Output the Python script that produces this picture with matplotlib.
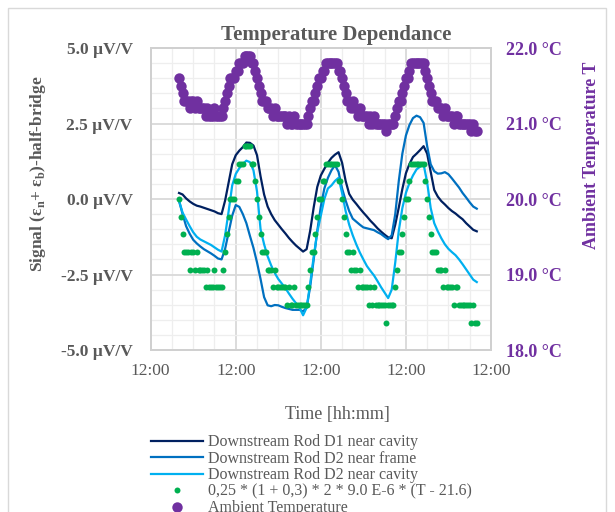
import matplotlib
matplotlib.use("Agg")
import matplotlib.pyplot as plt
from matplotlib.patches import Rectangle
from matplotlib.ticker import MultipleLocator, FuncFormatter
import numpy as np

plt.rcParams["font.family"] = ["Liberation Serif", "DejaVu Serif"]
plt.rcParams["mathtext.fontset"] = "custom"
plt.rcParams["mathtext.rm"] = "Liberation Serif:bold"

GRAY = "#595959"
PURPLE = "#7030A0"

# temperature, one reading every half hour (hours after the first 12:00)
temp_hours = np.arange(8.0, 92.01, 0.5)
temp = [
    21.6, 21.5, 21.4, 21.3, 21.3, 21.3, 21.2, 21.3, 21.3, 21.2, 21.3, 21.2,
    21.2, 21.2, 21.2, 21.1, 21.2, 21.1, 21.1, 21.1, 21.2, 21.1, 21.1, 21.1,
    21.1, 21.2, 21.3, 21.4, 21.5, 21.6, 21.6, 21.6, 21.7, 21.7, 21.8, 21.8,
    21.8, 21.9, 21.9, 21.9, 21.9, 21.8, 21.8, 21.7, 21.6, 21.5, 21.4, 21.3,
    21.3, 21.3, 21.2, 21.2, 21.2, 21.1, 21.2, 21.1, 21.1, 21.1, 21.1, 21.1,
    21.1, 21.0, 21.1, 21.0, 21.0, 21.1, 21.0, 21.0, 21.0, 21.0, 21.0, 21.0,
    21.0, 21.1, 21.2, 21.3, 21.3, 21.4, 21.5, 21.6, 21.6, 21.7, 21.7, 21.8,
    21.8, 21.8, 21.8, 21.8, 21.8, 21.8, 21.7, 21.7, 21.6, 21.5, 21.4, 21.3,
    21.3, 21.2, 21.3, 21.2, 21.2, 21.1, 21.2, 21.1, 21.1, 21.1, 21.1, 21.0,
    21.1, 21.0, 21.1, 21.0, 21.0, 21.0, 21.0, 21.0, 21.0, 20.9, 21.0, 21.0,
    21.0, 21.0, 21.1, 21.2, 21.3, 21.3, 21.4, 21.5, 21.6, 21.6, 21.7, 21.8,
    21.8, 21.8, 21.8, 21.8, 21.8, 21.8, 21.8, 21.7, 21.6, 21.5, 21.4, 21.3,
    21.3, 21.3, 21.2, 21.2, 21.2, 21.1, 21.2, 21.1, 21.1, 21.1, 21.1, 21.0,
    21.1, 21.1, 21.0, 21.0, 21.0, 21.0, 21.0, 21.0, 21.0, 20.9, 21.0, 20.9,
    20.9,
]

# strain gauge signals, one reading per hour [uV/V]
sig_hours = np.arange(8, 93, 1)
d1_cavity = [
    0.2, 0.15, 0.02, -0.08, -0.16, -0.22, -0.25, -0.29, -0.33, -0.37, -0.41, -0.47,
    -0.5, -0.05, 0.55, 1.15, 1.45, 1.6, 1.72, 1.87, 1.86, 1.77, 1.45, 0.75,
    0.15, -0.25, -0.5, -0.7, -0.85, -1.0, -1.14, -1.29, -1.42, -1.54, -1.64, -1.74,
    -1.66, -1.05, -0.27, 0.4, 0.78, 1.0, 1.2, 1.36, 1.47, 1.55, 1.2, 0.6,
    0.17, -0.02, -0.16, -0.31, -0.45, -0.58, -0.72, -0.84, -0.97, -1.08, -1.18, -1.27,
    -1.3, -0.85, -0.28, 0.33, 0.85, 1.16, 1.39, 1.5, 1.62, 1.75, 1.5, 0.9,
    0.3, 0.08, -0.07, -0.18, -0.3, -0.4, -0.48, -0.58, -0.67, -0.8, -0.91, -1.02,
    -1.07,
]
d2_frame = [
    -0.06, -0.5, -0.9, -1.15, -1.35, -1.47, -1.57, -1.66, -1.73, -1.8, -1.88, -1.97,
    -2.0, -1.65, -1.1, -0.55, -0.2, -0.26, -0.5, -0.8, -1.22, -1.62, -2.1, -2.65,
    -3.25, -3.52, -3.55, -3.51, -3.52, -3.57, -3.61, -3.64, -3.67, -3.67, -3.67, -3.72,
    -3.6, -2.9, -2.0, -1.05, -0.25, 0.35, 0.7, 0.95, 1.12, 0.9, 0.35, -0.05,
    -0.4, -0.65, -0.75, -0.85, -0.94, -0.97, -1.0, -1.03, -1.1, -1.16, -1.25, -1.33,
    -1.2, -0.5, 0.6, 1.5, 2.1, 2.45, 2.68, 2.76, 2.71, 2.52, 1.75, 1.15,
    0.92, 0.84, 0.85, 0.89, 0.82, 0.68, 0.53, 0.38, 0.2, 0.05, -0.11, -0.25,
    -0.32,
]
d2_cavity = [
    -0.06, -0.45, -0.68, -0.9, -1.1, -1.25, -1.34, -1.4, -1.46, -1.52, -1.6, -1.68,
    -1.74, -1.2, -0.4, 0.45, 0.83, 1.02, 1.16, 1.27, 1.22, 0.95, 0.25, -1.0,
    -1.5, -1.9, -2.2, -2.45, -2.65, -2.8, -2.95, -3.13, -3.3, -3.45, -3.6, -3.85,
    -3.6, -2.8, -1.9, -1.1, -0.55, 0.0, 0.35, 0.45, 0.6, 0.7, 0.2, -0.4,
    -0.85, -1.2, -1.5, -1.77, -2.0, -2.22, -2.38, -2.53, -2.72, -2.92, -3.1, -3.28,
    -3.0, -2.1, -1.05, -0.3, 0.2, 0.53, 0.78, 0.98, 1.07, 1.15, 0.55, -0.3,
    -0.8, -1.07, -1.3, -1.5, -1.65, -1.76, -1.86, -2.0, -2.16, -2.33, -2.5, -2.67,
    -2.75,
]

# expected thermal signal from the legend formula, in uV/V
temp = np.array(temp)
model = 0.25 * (1 + 0.3) * 2 * 9.0e-6 * (temp - 21.6) * 1e6

fig = plt.figure(figsize=(6.15, 5.12), dpi=100)
ax = fig.add_axes([0.245, 0.3164, 0.5533, 0.5898])
ax2 = ax.twinx()

l1, = ax.plot(sig_hours, d1_cavity, color="#002060", lw=1.6,
              label="Downstream Rod D1 near cavity")
l2, = ax.plot(sig_hours, d2_frame, color="#0070C0", lw=1.6,
              label="Downstream Rod D2 near frame")
l3, = ax.plot(sig_hours, d2_cavity, color="#00B0F0", lw=1.6,
              label="Downstream Rod D2 near cavity")
g, = ax.plot(temp_hours, model, ls="none", marker="o", ms=4.3, mew=0,
             color="#00B050", label="0,25 * (1 + 0,3) * 2 * 9.0 E-6 * (T - 21.6)")
p, = ax2.plot(temp_hours, temp, ls="none", marker="o", ms=7.5, mew=0,
              color=PURPLE, label="Ambient Temperature")

ax.set_xlim(0, 96)
ax.set_ylim(-5, 5)
ax2.set_ylim(18, 22)

ax.xaxis.set_major_locator(MultipleLocator(24))
ax.xaxis.set_minor_locator(MultipleLocator(6))
ax.yaxis.set_major_locator(MultipleLocator(2.5))
ax.yaxis.set_minor_locator(MultipleLocator(0.5))
ax2.yaxis.set_major_locator(MultipleLocator(1))

ax.xaxis.set_major_formatter(FuncFormatter(lambda h, pos: f"{int(round(12 + h)) % 24:02d}:00"))
ax.yaxis.set_major_formatter(FuncFormatter(lambda v, pos: f"{(0.0 if abs(v) < 1e-9 else v):.1f} µV/V"))
ax2.yaxis.set_major_formatter(FuncFormatter(lambda v, pos: f"{v:.1f} °C"))

ax.grid(which="major", color="#D9D9D9", lw=1.3)
ax.grid(which="minor", color="#EEEEEE", lw=0.9)
ax.set_axisbelow(True)

for a in (ax, ax2):
    for s in a.spines.values():
        s.set_color("#D0D0D0")
        s.set_linewidth(1.3)

ax.tick_params(which="both", length=0)
ax2.tick_params(which="both", length=0)
ax.tick_params(axis="x", labelsize=12.5, labelcolor=GRAY, pad=9)
ax.tick_params(axis="y", labelsize=12.5, labelcolor=GRAY, pad=13)
ax2.tick_params(axis="y", labelsize=13, labelcolor=PURPLE, pad=11)
for t in ax.get_yticklabels():
    t.set_fontweight("bold")
for t in ax2.get_yticklabels():
    t.set_fontweight("bold")

fig.text(0.547, 0.932, "Temperature Dependance", ha="center", va="center",
         fontsize=15, fontweight="bold", color=GRAY)
fig.text(0.062, 0.66, r"Signal (ε$_\mathrm{n}$+ ε$_\mathrm{b}$)-half-bridge",
         rotation=90, ha="center", va="center", fontsize=12.5,
         fontweight="bold", color=GRAY)
fig.text(0.961, 0.697, "Ambient Temperature T", rotation=90, ha="center",
         va="center", fontsize=13, fontweight="bold", color=PURPLE)
fig.text(0.548, 0.19, "Time [hh:mm]", ha="center", va="center",
         fontsize=13, color=GRAY)

leg = fig.legend(handles=[l1, l2, l3, g, p], loc="upper left",
                 bbox_to_anchor=(0.2455, 0.152), frameon=False, fontsize=11.5,
                 borderpad=0, borderaxespad=0, handlelength=3.25,
                 handletextpad=0.3, labelspacing=0.03)
for t in leg.get_texts():
    t.set_color(GRAY)

fig.add_artist(Rectangle((8 / 615, -0.05), 598 / 615, 1.05 - 8 / 512,
                         transform=fig.transFigure, fill=False,
                         ec="#D9D9D9", lw=1))

fig.savefig("out.png", dpi=100)
